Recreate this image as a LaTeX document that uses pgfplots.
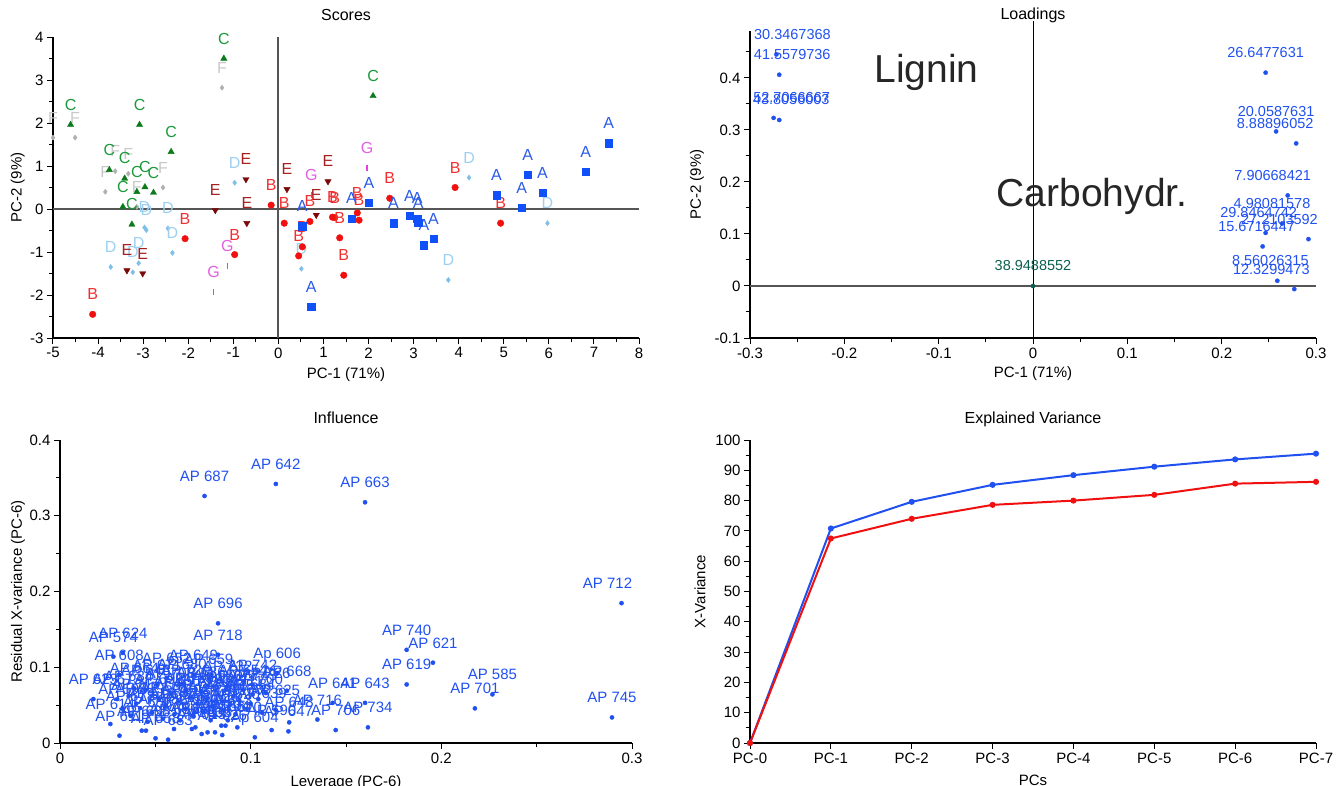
\documentclass[border=0pt]{standalone}
\usepackage{pgfplots}
\pgfplotsset{compat=1.18}
\usepackage{fontspec}
\setmainfont{Liberation Sans}
\definecolor{cA}{HTML}{1050F8}\definecolor{cAl}{HTML}{2A5BE8}
\definecolor{cB}{HTML}{F01010}\definecolor{cBl}{HTML}{F03030}
\definecolor{cC}{HTML}{0A7A1A}\definecolor{cCl}{HTML}{1A9A3A}
\definecolor{cD}{HTML}{80C0E8}\definecolor{cDl}{HTML}{9DD0F0}
\definecolor{cE}{HTML}{7A0A0A}\definecolor{cEl}{HTML}{A52020}
\definecolor{cF}{HTML}{B0B0B0}\definecolor{cFl}{HTML}{C8C8C8}
\definecolor{cG}{HTML}{E040E0}\definecolor{cGl}{HTML}{E060E0}
\definecolor{bl}{HTML}{2050F0}
\definecolor{teal2}{HTML}{0B5F50}
\definecolor{zl}{HTML}{555555}
\newcommand{\fs}{\fontsize{15}{18}\selectfont}
\pgfplotsset{
  base/.style={scale only axis, axis lines*=left, clip=false, tick align=outside,
    anchor=south west, font=\fs,
    /pgf/number format/assume math mode=true,
    axis line style={-,black,line width=1.4pt},
    tick style={black,line width=1pt},
    major tick length=6pt, minor tick length=4pt,
    tick label style={font=\fs},
    title style={font=\fontsize{16}{18}\selectfont, at={(axis description cs:0.5,1)}, anchor=base, yshift=11pt},
  },
  lab/.style={every node near coord/.append style={anchor=base, yshift=14.5pt, inner sep=0pt, font=\fontsize{16}{18}\selectfont, text=#1}},
}
\begin{document}
\begin{tikzpicture}
\useasboundingbox (0,0) rectangle (1344pt,-785pt);
% ---------------- Scores
\begin{axis}[base, at={(53pt,-338pt)}, width=586pt, height=301pt,
  xmin=-5, xmax=8, ymin=-3, ymax=4,
  xtick={-5,...,8}, ytick={-3,...,4}, minor tick num=1,
  title={Scores}, xlabel={PC-1 (71\%)}, ylabel={PC-2 (9\%)},
  xlabel style={at={(axis description cs:0.5,-0.133)}, anchor=base},
  ylabel style={at={(axis description cs:-0.06,0.5)}, anchor=center}]
\draw[zl, line width=1.8pt] (axis cs:-5,0) -- (axis cs:8,0);
\draw[zl, line width=1.8pt] (axis cs:0,-3) -- (axis cs:0,4);
\addplot[only marks, mark=diamond*, mark size=2.6pt, color=cF, nodes near coords={F}, lab=cFl] coordinates {
(-5.0,1.66) (-4.51,1.66) (-3.84,0.40) (-2.56,0.50) (-1.25,2.82) (-3.62,0.88) (-3.33,0.82) (-3.14,0.05)};
\addplot[only marks, mark=diamond*, mark size=2.6pt, color=cD, nodes near coords={D}, lab=cDl] coordinates {
(-2.97,-0.43) (-2.93,-0.49) (-2.45,-0.45) (-2.35,-1.02) (-3.72,-1.35) (-3.10,-1.26) (-3.23,-1.47) (-0.97,0.61) (0.51,-1.39) (4.23,0.73) (3.77,-1.65) (5.97,-0.33)};
\addplot[only marks, mark=triangle*, mark size=3.6pt, color=cC, nodes near coords={C}, lab=cCl] coordinates {
(-4.61,1.96) (-3.08,1.96) (-2.38,1.33) (-3.75,0.91) (-3.41,0.71) (-3.14,0.40) (-2.96,0.51) (-2.77,0.38) (-3.45,0.05) (-3.25,-0.36) (-1.21,3.50) (2.10,2.63)};
\addplot[only marks, mark=triangle*, mark size=3.6pt, mark options={rotate=180}, color=cE, nodes near coords={E}, lab=cEl] coordinates {
(-3.36,-1.43) (-3.01,-1.50) (-1.40,-0.03) (-0.72,0.69) (-0.70,-0.33) (0.19,0.46) (0.84,-0.14) (1.10,0.64)};
\addplot[only marks, mark=|, mark size=3pt, line width=1.5pt, color=cG, nodes near coords={G}, lab=cGl] coordinates {
(-1.13,-1.33) (-1.44,-1.92) (1.97,0.96) (0.73,0.32)};
\addplot[only marks, mark=*, mark size=3.3pt, color=cB, nodes near coords={B}, lab=cBl] coordinates {
(-4.12,-2.45) (-2.07,-0.69) (-0.97,-1.06) (-0.16,0.09) (0.13,-0.33) (0.70,-0.29) (0.53,-0.88) (0.45,-1.09) (1.25,-0.20) (1.20,-0.19) (1.36,-0.67) (1.45,-1.54) (1.75,-0.09) (1.79,-0.26) (2.47,0.25) (3.92,0.50) (4.93,-0.33)};
\addplot[only marks, mark=square*, mark size=3.6pt, color=cA, nodes near coords={A}, lab=cAl] coordinates {
(7.33,1.53) (6.82,0.87) (5.86,0.38) (5.53,0.80) (5.40,0.03) (4.84,0.32) (3.44,-0.69) (3.23,-0.84) (3.10,-0.32) (3.08,-0.22) (2.91,-0.16) (2.55,-0.33) (2.01,0.15) (1.62,-0.22) (0.53,-0.40) (0.73,-2.28)};
\end{axis}
% ---------------- Loadings
\begin{axis}[base, at={(750pt,-338pt)}, width=566pt, height=307pt,
  xmin=-0.3, xmax=0.3, ymin=-0.1, ymax=0.49,
  xtick={-0.3,-0.2,-0.1,0,0.1,0.2,0.3}, minor xtick={-0.25,-0.15,-0.05,0.05,0.15,0.25},
  ytick={-0.1,0,0.1,0.2,0.3,0.4}, minor ytick={-0.05,0.05,0.15,0.25,0.35,0.45},
  title={Loadings}, title style={yshift=-5pt},
  xlabel={PC-1 (71\%)}, ylabel={PC-2 (9\%)},
  xlabel style={at={(axis description cs:0.5,-0.130)}, anchor=base},
  ylabel style={at={(axis description cs:-0.0936,0.5)}, anchor=center}]
\draw[zl, line width=1.8pt] (axis cs:-0.3,0) -- (axis cs:0.3,0);
\draw[black, line width=1pt] (axis cs:0,-0.1) -- (axis cs:0,0.51);
\node[font=\fontsize{39}{44}\selectfont, text=black!85] at (axis cs:-0.113,0.41) {Lignin};
\node[font=\fontsize{39}{44}\selectfont, text=black!85] at (axis cs:0.0626,0.173) {Carbohydr.};
\addplot[only marks, mark=*, mark size=2.1pt, color=bl, point meta=explicit symbolic, nodes near coords,
  visualization depends on={\thisrow{dx} \as \dx},
  every node near coord/.append style={anchor=base, yshift=15pt, xshift=\dx pt, inner sep=0pt, font=\fontsize{14.5}{16}\selectfont, text=bl}]
  table[x=x, y=y, meta=lab] {
x y dx lab
-0.272 0.445 16 30.3467368
-0.269 0.406 13 41.5579736
-0.275 0.323 18 52.7066667
-0.269 0.319 12 43.8056003
0.2466 0.410 0 26.6477631
0.2577 0.297 0 20.0587631
0.279 0.274 -21 8.88896052
0.270 0.174 -15 7.90668421
0.264 0.120 -10 4.98081578
0.2466 0.102 -7 29.8464742
0.292 0.090 -29 27.2103592
0.2434 0.076 -6 15.6716447
0.259 0.010 -7 8.56026315
0.277 -0.006 -23 12.3299473
};
\addplot[only marks, mark=*, mark size=2.1pt, color=teal2, nodes near coords={38.9488552},
  every node near coord/.append style={anchor=base, yshift=15pt, inner sep=0pt, font=\fontsize{14.5}{16}\selectfont, text=teal2}]
  coordinates {(0,0)};
\end{axis}
% ---------------- Influence
\begin{axis}[base, at={(60pt,-743pt)}, width=572pt, height=303pt,
  xmin=0, xmax=0.3, ymin=0, ymax=0.4,
  xtick={0,0.1,0.2,0.3}, minor xtick={0.05,0.15,0.25},
  ytick={0,0.1,0.2,0.3,0.4}, minor ytick={0.05,0.15,0.25,0.35},
  title={Influence},
  xlabel={Leverage (PC-6)}, ylabel={Residual X-variance (PC-6)},
  xlabel style={at={(axis description cs:0.5,-0.142)}, anchor=base},
  ylabel style={at={(axis description cs:-0.0734,0.5)}, anchor=center}]
\addplot[only marks, mark=*, mark size=2.1pt, color=bl, point meta=explicit symbolic, nodes near coords,
  every node near coord/.append style={anchor=base, yshift=14.5pt, inner sep=0pt, font=\fs, text=bl}]
  coordinates {
(0.0758,0.3261)[AP 687] (0.1132,0.3420)[AP 642] (0.1600,0.3178)[AP 663]
(0.2895,0.0338)[AP 745] (0.0829,0.1580)[AP 696] (0.0829,0.1165)[AP 718]
(0.1818,0.1230)[AP 740] (0.1956,0.1060)[AP 621] (0.1818,0.0773)[AP 619]
(0.2268,0.0642)[AP 585] (0.2176,0.0457)[AP 701] (0.1615,0.0207)[AP 734]
(0.1446,0.0171)[AP 706] (0.1430,0.0530)[AP 641] (0.1600,0.0530)[AP 643]
(0.1350,0.0310)[AP 716] (0.1202,0.0273)[AP 648] (0.1198,0.0154)[AP 647]
(0.1022,0.0075)[Ap 604] (0.1139,0.0920)[Ap 606] (0.1190,0.0690)[AP 668]
(0.1130,0.0440)[AP 625] (0.1010,0.0770)[AP 742] (0.1010,0.0640)[AP 743]
(0.1110,0.0171)[AP 590] (0.0330,0.1190)[AP 624] (0.0280,0.1140)[AP 574]
(0.0310,0.0900)[AP 608] (0.0700,0.0900)[AP 649] (0.0560,0.0860)[AP 652]
(0.0510,0.0770)[AP 671] (0.0660,0.0700)[AP 720] (0.0175,0.0580)[AP 623]
(0.0300,0.0580)[AP 673] (0.0420,0.0460)[AP 729] (0.0264,0.0251)[AP 614]
(0.0312,0.0097)[AP 611] (0.0429,0.0163)[AP 672] (0.0451,0.0163)[AP 688]
(0.0501,0.0062)[AP 658] (0.0567,0.0044)[AP 683] (0.0598,0.0185)[AP 690]
(0.0692,0.0185)[AP 661] (0.0710,0.0207)[AP 737] (0.0743,0.0119)[AP 615]
(0.0774,0.0141)[AP 633] (0.0813,0.0141)[AP 697] (0.0851,0.0105)[AP 626]
(0.0846,0.0229)[AP 655] (0.0868,0.0229)[AP 704] (0.0930,0.0207)[AP 610]
(0.0360,0.0620)[AP 634] (0.0400,0.0520)[AP 717] (0.0450,0.0700)[AP 646]
(0.0480,0.0400)[AP 612] (0.0520,0.0580)[AP 699] (0.0550,0.0480)[AP 631]
(0.0580,0.0660)[AP 708] (0.0600,0.0380)[AP 657] (0.0620,0.0550)[AP 691]
(0.0640,0.0780)[AP 680] (0.0660,0.0450)[AP 602] (0.0680,0.0600)[AP 739]
(0.0700,0.0350)[AP 666] (0.0720,0.0520)[AP 728] (0.0740,0.0680)[AP 686]
(0.0750,0.0420)[AP 617] (0.0770,0.0580)[AP 703] (0.0780,0.0850)[AP 659]
(0.0800,0.0480)[AP 636] (0.0810,0.0350)[AP 724] (0.0830,0.0640)[AP 650]
(0.0850,0.0550)[AP 693] (0.0860,0.0430)[AP 607] (0.0880,0.0750)[AP 732]
(0.0890,0.0500)[AP 645] (0.0910,0.0620)[AP 677] (0.0920,0.0380)[AP 620]
(0.0940,0.0560)[AP 711] (0.0960,0.0700)[AP 654] (0.0980,0.0450)[AP 630]
(0.1000,0.0520)[AP 684] (0.1040,0.0580)[AP 700] (0.1060,0.0400)[AP 639]
(0.1080,0.0660)[AP 726] (0.0630,0.0300)[AP 670] (0.0790,0.0300)[AP 695]
(0.0880,0.0300)[AP 613] (0.0540,0.0320)[AP 682] (0.0460,0.0280)[AP 656]
(0.0370,0.0360)[AP 618] (0.0330,0.0450)[AP 598] (0.0390,0.0720)[AP 664]
};
\addplot[only marks, mark=*, mark size=2.1pt, color=bl, nodes near coords={AP 712},
  every node near coord/.append style={anchor=base, yshift=14.5pt, xshift=-14pt, inner sep=0pt, font=\fs, text=bl}]
  coordinates {(0.2945,0.1846)};
\end{axis}
% ---------------- Explained Variance
\begin{axis}[base, at={(750pt,-743pt)}, width=566pt, height=303pt,
  xmin=0, xmax=7, ymin=0, ymax=100,
  xtick={0,...,7}, xticklabels={PC-0,PC-1,PC-2,PC-3,PC-4,PC-5,PC-6,PC-7},
  ytick={0,10,...,100}, minor ytick={5,15,...,95},
  title={Explained Variance},
  xlabel={PCs}, ylabel={X-Variance},
  xlabel style={at={(axis description cs:0.5,-0.139)}, anchor=base},
  ylabel style={at={(axis description cs:-0.0883,0.5)}, anchor=center}]
\addplot[color=bl, line width=2pt, mark=*, mark size=2pt] coordinates {
(0,0) (1,70.8) (2,79.6) (3,85.2) (4,88.4) (5,91.2) (6,93.6) (7,95.5)};
\addplot[color=cB, line width=2pt, mark=*, mark size=2pt] coordinates {
(0,0) (1,67.5) (2,74.0) (3,78.6) (4,80.0) (5,81.9) (6,85.6) (7,86.2)};
\end{axis}
\end{tikzpicture}
\end{document}
